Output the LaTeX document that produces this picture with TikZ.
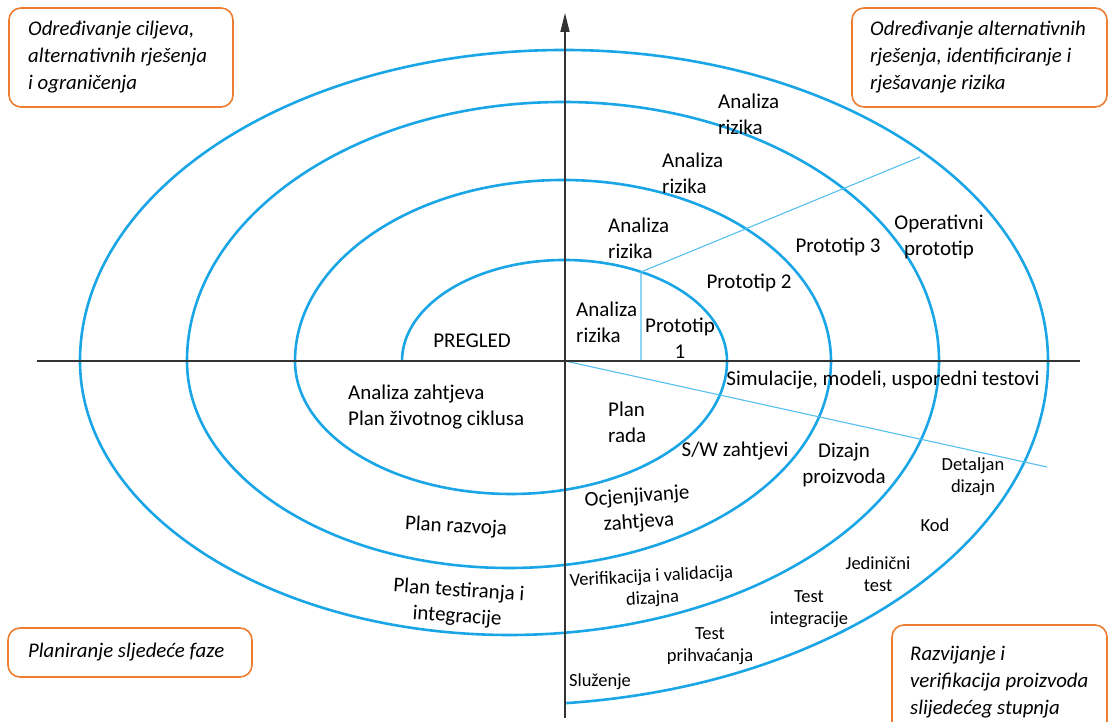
\documentclass[tikz,border=0pt]{standalone}
\usepackage{fontspec}
\setmainfont{Carlito}
\usetikzlibrary{arrows.meta}
\definecolor{spiralblue}{HTML}{1AA6E6}
\definecolor{lineblue}{HTML}{55BFEF}
\definecolor{boxorange}{HTML}{ED7D31}
\definecolor{axisgray}{HTML}{333333}

\begin{document}
\begin{tikzpicture}[x=1pt,y=1pt,
        spiral/.style={spiralblue, line width=2.6pt},
        guide/.style={lineblue, line width=1.1pt},
        axis/.style={axisgray, line width=1.4pt},
        lbl/.style={font=\fontsize{21}{26}\selectfont, inner sep=0pt, align=center},
        sml/.style={font=\fontsize{18.5}{22}\selectfont, inner sep=0pt, align=center},
        phase/.style={draw=boxorange, line width=1.6pt, rounded corners=12pt},
        phasetxt/.style={font=\fontsize{20.8}{27}\selectfont\itshape, inner sep=0pt, align=left, anchor=west}]
        \useasboundingbox (0,0) rectangle (1108,722);

        % spiral
        \draw[spiral] (402,361)
            arc[start angle=180, end angle=0, x radius=162.5, y radius=101]
            arc[start angle=0, end angle=-180, x radius=216, y radius=133]
            arc[start angle=180, end angle=0, x radius=268, y radius=181]
            arc[start angle=0, end angle=-180, x radius=322, y radius=207]
            arc[start angle=180, end angle=0, x radius=376, y radius=259]
            arc[start angle=0, end angle=-180, x radius=429.5, y radius=274]
            arc[start angle=180, end angle=0, x radius=484, y radius=311]
            arc[start angle=0, end angle=-84, x radius=538, y radius=344];

        % guide lines
        \coordinate (O) at (565,361);
        \coordinate (p1) at (641,361);
        \coordinate (p2) at (641,450);
        \coordinate (p3) at (920,565);
        \coordinate (p4) at (1047,255);
        \draw[guide] (p1) -- (p2) -- (p3);
        \draw[guide] (O) -- (p4);

        % axes
        \coordinate (hl) at (37,361);
        \coordinate (hr) at (1080,361);
        \coordinate (vb) at (565,4);
        \coordinate (vt) at (565,709);
        \draw[axis] (hl) -- (hr);
        \draw[axis, -{Triangle[length=19pt,width=9pt]}] (vb) -- (vt);

        % upper right
        \node[lbl, align=left, anchor=west] (rz4) at (718,608) {Analiza\\rizika};
        \node[lbl, align=left, anchor=west] (rz3) at (662,549) {Analiza\\rizika};
        \node[lbl, align=left, anchor=west] (rz2) at (608,484) {Analiza\\rizika};
        \node[lbl, align=left, anchor=west] (rz1) at (576,400) {Analiza\\rizika};
        \node[lbl] (pt1) at (680,384) {Prototip\\1};
        \node[lbl] (pt2) at (749,439) {Prototip 2};
        \node[lbl] (pt3) at (838,475) {Prototip 3};
        \node[lbl] (opr) at (939,485) {Operativni\\prototip};

        % upper left / lower left
        \node[lbl] (pregled) at (472,381) {PREGLED};
        \node[lbl, align=left, anchor=west] (azh) at (348,315) {Analiza zahtjeva\\Plan životnog ciklusa};
        \node[lbl, rotate=-3] (praz) at (456,195) {Plan razvoja};
        \node[lbl, rotate=-4] (ptest) at (458,118) {Plan testiranja i\\integracije};

        % lower right
        \node[lbl, align=left, anchor=west] (prada) at (608,300) {Plan\\rada};
        \node[lbl] (swz) at (735,271) {S/W zahtjevi};
        \node[lbl] (sim) at (883,342) {Simulacije, modeli, usporedni testovi};
        \node[lbl] (dpr) at (844,257) {Dizajn\\proizvoda};
        \node[lbl, rotate=4] (ocj) at (638,212) {Ocjenjivanje\\zahtjeva};
        \node[sml] (det) at (973,245) {Detaljan\\dizajn};
        \node[sml] (kod) at (935,197) {Kod};
        \node[sml] (jed) at (878,148) {Jedinični\\test};
        \node[sml] (tin) at (809,113) {Test\\integracije};
        \node[sml, rotate=3] (ver) at (652,134) {Verifikacija i validacija\\dizajna};
        \node[sml] (tpr) at (710,76) {Test\\prihvaćanja};
        \node[sml] (slu) at (600,40) {Služenje};

        % quadrant boxes
        \draw[phase] (9,714) rectangle (233,615);
        \node[phasetxt] (q1) at (28,664.5) {Određivanje ciljeva,\\alternativnih rješenja\\i ograničenja};
        \draw[phase] (852,714) rectangle (1107,615);
        \node[phasetxt] (q2) at (870,664.5) {Određivanje alternativnih\\rješenja, identificiranje i\\rješavanje rizika};
        \draw[phase] (8,94) rectangle (252,45);
        \node[phasetxt] (q3) at (28,69.5) {Planiranje sljedeće faze};
        \draw[phase] (892,97) rectangle (1107,-20);
        \node[phasetxt] (q4) at (910,40) {Razvijanje i\\verifikacija proizvoda\\slijedećeg stupnja};
    \end{tikzpicture}
\end{document}
